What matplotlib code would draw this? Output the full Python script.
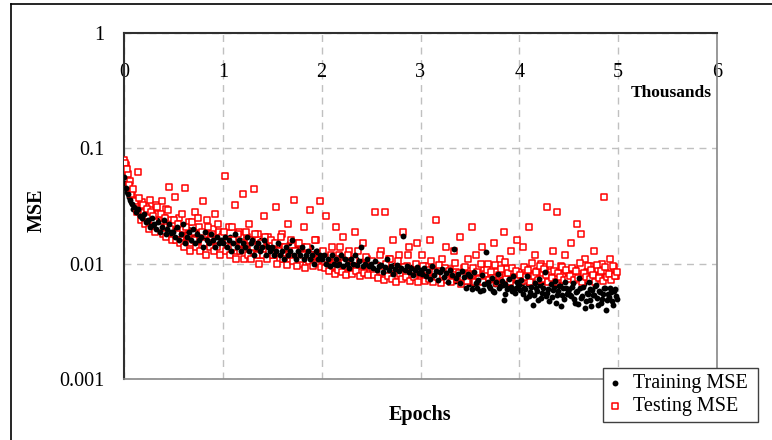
import numpy as np
import matplotlib.pyplot as plt
from matplotlib.lines import Line2D

plt.rcParams['font.family'] = ['Liberation Serif', 'DejaVu Serif']

# epochs (thousands); two interleaved sample sets, every 20 epochs each
epochs_a = np.arange(0, 5000, 20) / 1000.0
epochs_b = np.arange(10, 5000, 20) / 1000.0

train_mse_a = [
    0.056, 0.045, 0.040, 0.036, 0.033, 0.031, 0.028, 0.030, 0.026, 0.025, 0.027, 0.023, 0.024,
    0.021, 0.025, 0.022, 0.020, 0.023, 0.019, 0.021, 0.024, 0.018, 0.020, 0.022, 0.019,
    0.019, 0.017, 0.021, 0.016, 0.018, 0.022, 0.015, 0.017, 0.019, 0.016, 0.020, 0.015, 0.018,
    0.016, 0.017, 0.014, 0.019, 0.016, 0.015, 0.018, 0.016, 0.014, 0.017, 0.015, 0.016,
    0.015, 0.017, 0.014, 0.016, 0.013, 0.015, 0.018, 0.014, 0.016, 0.013, 0.015, 0.014, 0.017,
    0.013, 0.015, 0.016, 0.012, 0.014, 0.015, 0.013, 0.014, 0.016, 0.012, 0.014, 0.013,
    0.014, 0.012, 0.013, 0.015, 0.012, 0.013, 0.011, 0.014, 0.012, 0.013, 0.016, 0.012, 0.011,
    0.013, 0.012, 0.014, 0.011, 0.012, 0.013, 0.011, 0.012, 0.010, 0.013, 0.011, 0.012,
    0.011, 0.012, 0.010, 0.011, 0.0095, 0.012, 0.010, 0.011, 0.0098, 0.010, 0.012, 0.0095, 0.011,
    0.010, 0.0092, 0.011, 0.010, 0.012, 0.0098, 0.0105, 0.014, 0.0095, 0.010, 0.011, 0.0096,
    0.010, 0.0092, 0.0105, 0.0088, 0.0095, 0.0098, 0.0085, 0.0093, 0.011, 0.0088, 0.0095, 0.0082, 0.0090,
    0.0098, 0.0086, 0.0092, 0.0175, 0.0088, 0.0095, 0.0084, 0.0091, 0.0080, 0.0089, 0.0094, 0.0083,
    0.0088, 0.0082, 0.0092, 0.0078, 0.0086, 0.0074, 0.0095, 0.0080, 0.0087, 0.0072, 0.0084, 0.0090, 0.0076,
    0.0083, 0.0070, 0.0088, 0.0079, 0.0135, 0.0075, 0.0082, 0.0068, 0.0086, 0.0077, 0.0062, 0.0081,
    0.0078, 0.0060, 0.0085, 0.0068, 0.0072, 0.0058, 0.0080, 0.0066, 0.0126, 0.0070, 0.0062, 0.0075, 0.0057,
    0.0069, 0.0082, 0.0064, 0.0071, 0.0048, 0.0067, 0.0060, 0.0074, 0.0063, 0.0078, 0.0056, 0.0069,
    0.0065, 0.0072, 0.0055, 0.0060, 0.0078, 0.0052, 0.0063, 0.0044, 0.0068, 0.0058, 0.0073, 0.0050, 0.0062,
    0.0085, 0.0056, 0.0047, 0.0066, 0.0059, 0.0071, 0.0053, 0.0064, 0.0043, 0.0061, 0.0069, 0.0055,
    0.0060, 0.0052, 0.0068, 0.0046, 0.0058, 0.0075, 0.0050, 0.0063, 0.0041, 0.0056, 0.0070, 0.0048, 0.0059,
    0.0053, 0.0065, 0.0044, 0.0057, 0.0049, 0.0062, 0.0040, 0.0055, 0.0061, 0.0047, 0.0058, 0.0052,
]

train_mse_b = [
    0.050, 0.042, 0.038, 0.034, 0.030, 0.029, 0.031, 0.027, 0.028, 0.024, 0.026, 0.025, 0.022,
    0.024, 0.021, 0.023, 0.024, 0.020, 0.022, 0.019, 0.021, 0.020, 0.023, 0.018, 0.021,
    0.020, 0.018, 0.017, 0.021, 0.019, 0.016, 0.018, 0.020, 0.016, 0.017, 0.018, 0.019, 0.015,
    0.017, 0.018, 0.016, 0.015, 0.017, 0.019, 0.015, 0.016, 0.017, 0.015, 0.016, 0.018,
    0.016, 0.014, 0.015, 0.017, 0.014, 0.016, 0.015, 0.013, 0.016, 0.014, 0.015, 0.017, 0.013,
    0.014, 0.016, 0.014, 0.013, 0.015, 0.014, 0.016, 0.013, 0.014, 0.015, 0.013, 0.014,
    0.013, 0.014, 0.012, 0.013, 0.014, 0.012, 0.013, 0.012, 0.015, 0.013, 0.012, 0.013, 0.014,
    0.011, 0.013, 0.012, 0.013, 0.011, 0.012, 0.014, 0.011, 0.012, 0.013, 0.011, 0.012,
    0.012, 0.011, 0.010, 0.012, 0.011, 0.010, 0.011, 0.0098, 0.011, 0.012, 0.010, 0.011, 0.0095,
    0.010, 0.011, 0.0098, 0.010, 0.011, 0.0093, 0.010, 0.0105, 0.0096, 0.011, 0.0098, 0.010,
    0.0098, 0.0090, 0.0096, 0.0100, 0.0087, 0.0093, 0.0091, 0.0098, 0.0086, 0.0094, 0.0089, 0.0097, 0.0085,
    0.0092, 0.0088, 0.0095, 0.0084, 0.0090, 0.0087, 0.0093, 0.0082, 0.0089, 0.0086, 0.0091, 0.0085,
    0.0086, 0.0090, 0.0080, 0.0084, 0.0079, 0.0088, 0.0076, 0.0083, 0.0081, 0.0074, 0.0086, 0.0078, 0.0082,
    0.0073, 0.0080, 0.0077, 0.0084, 0.0071, 0.0079, 0.0075, 0.0081, 0.0069, 0.0077, 0.0073, 0.0066,
    0.0074, 0.0066, 0.0079, 0.0062, 0.0070, 0.0076, 0.0059, 0.0068, 0.0073, 0.0064, 0.0078, 0.0058, 0.0067,
    0.0071, 0.0061, 0.0075, 0.0065, 0.0055, 0.0070, 0.0063, 0.0068, 0.0058, 0.0072, 0.0061, 0.0066,
    0.0059, 0.0068, 0.0062, 0.0050, 0.0066, 0.0057, 0.0070, 0.0054, 0.0061, 0.0048, 0.0065, 0.0056, 0.0069,
    0.0052, 0.0060, 0.0075, 0.0051, 0.0063, 0.0046, 0.0058, 0.0067, 0.0054, 0.0049, 0.0062, 0.0057,
    0.0054, 0.0063, 0.0049, 0.0057, 0.0045, 0.0061, 0.0052, 0.0066, 0.0047, 0.0055, 0.0060, 0.0043, 0.0053,
    0.0064, 0.0050, 0.0058, 0.0046, 0.0055, 0.0062, 0.0048, 0.0051, 0.0057, 0.0044, 0.0060, 0.0049,
]

test_mse_a = [
    0.080, 0.072, 0.060, 0.052, 0.042, 0.036, 0.033, 0.062, 0.030, 0.034, 0.028, 0.031, 0.026,
    0.036, 0.029, 0.024, 0.032, 0.027, 0.022, 0.035, 0.025, 0.030, 0.021, 0.046, 0.024,
    0.022, 0.038, 0.018, 0.025, 0.016, 0.020, 0.045, 0.017, 0.023, 0.015, 0.019, 0.028, 0.016,
    0.021, 0.014, 0.035, 0.018, 0.024, 0.015, 0.017, 0.020, 0.027, 0.014, 0.019, 0.016,
    0.018, 0.057, 0.015, 0.021, 0.014, 0.016, 0.032, 0.013, 0.019, 0.015, 0.040, 0.014, 0.017,
    0.022, 0.013, 0.016, 0.044, 0.014, 0.018, 0.012, 0.015, 0.026, 0.013, 0.017, 0.012,
    0.015, 0.012, 0.031, 0.013, 0.011, 0.018, 0.014, 0.012, 0.022, 0.011, 0.013, 0.036, 0.012,
    0.015, 0.010, 0.014, 0.021, 0.011, 0.013, 0.029, 0.012, 0.010, 0.016, 0.011, 0.035,
    0.012, 0.010, 0.026, 0.011, 0.0092, 0.014, 0.010, 0.021, 0.0095, 0.012, 0.0088, 0.017, 0.010,
    0.0093, 0.013, 0.0085, 0.011, 0.019, 0.0090, 0.010, 0.0084, 0.015, 0.0095, 0.011, 0.0087,
    0.010, 0.0088, 0.028, 0.0095, 0.0082, 0.013, 0.0090, 0.028, 0.0085, 0.011, 0.0080, 0.016, 0.0092,
    0.0078, 0.012, 0.0086, 0.019, 0.0083, 0.0095, 0.014, 0.0080, 0.0088, 0.0076, 0.015, 0.0084,
    0.0090, 0.012, 0.0080, 0.0095, 0.0076, 0.016, 0.0085, 0.0078, 0.024, 0.0088, 0.0074, 0.011, 0.0082,
    0.014, 0.0079, 0.0090, 0.0075, 0.013, 0.0084, 0.0077, 0.017, 0.0081, 0.0092, 0.0073, 0.011,
    0.0086, 0.021, 0.0079, 0.012, 0.0083, 0.0075, 0.014, 0.0088, 0.0078, 0.010, 0.0081, 0.0074, 0.015,
    0.0085, 0.0077, 0.011, 0.0080, 0.019, 0.0076, 0.0090, 0.0079, 0.013, 0.0082, 0.0075, 0.016,
    0.0084, 0.0078, 0.014, 0.0090, 0.0076, 0.021, 0.0082, 0.0079, 0.012, 0.0086, 0.0074, 0.010, 0.0081,
    0.0093, 0.031, 0.0078, 0.0085, 0.013, 0.0077, 0.028, 0.0083, 0.0095, 0.0079, 0.012, 0.0087,
    0.0080, 0.015, 0.0076, 0.0089, 0.022, 0.0082, 0.018, 0.0078, 0.011, 0.0085, 0.0075, 0.0096, 0.0081,
    0.013, 0.0077, 0.0088, 0.0079, 0.0099, 0.038, 0.0083, 0.0076, 0.011, 0.0080, 0.0094, 0.0078,
]

test_mse_b = [
    0.075, 0.066, 0.048, 0.040, 0.044, 0.035, 0.028, 0.037, 0.024, 0.032, 0.022, 0.030, 0.020,
    0.028, 0.026, 0.019, 0.031, 0.021, 0.027, 0.018, 0.025, 0.017, 0.029, 0.020, 0.016,
    0.024, 0.016, 0.022, 0.015, 0.027, 0.014, 0.021, 0.017, 0.013, 0.023, 0.016, 0.014, 0.025,
    0.013, 0.019, 0.015, 0.012, 0.021, 0.014, 0.018, 0.013, 0.016, 0.022, 0.012, 0.017,
    0.019, 0.013, 0.016, 0.012, 0.021, 0.014, 0.011, 0.018, 0.013, 0.015, 0.011, 0.019, 0.012,
    0.016, 0.011, 0.014, 0.018, 0.012, 0.010, 0.015, 0.012, 0.017, 0.011, 0.013, 0.016,
    0.012, 0.015, 0.010, 0.013, 0.017, 0.011, 0.014, 0.0098, 0.012, 0.016, 0.0105, 0.013, 0.0095,
    0.015, 0.011, 0.012, 0.0092, 0.014, 0.0105, 0.012, 0.0096, 0.016, 0.0102, 0.011, 0.0094,
    0.013, 0.0092, 0.011, 0.0086, 0.012, 0.0095, 0.0082, 0.011, 0.0089, 0.014, 0.0084, 0.0102, 0.0079,
    0.012, 0.0091, 0.0081, 0.0108, 0.0086, 0.013, 0.0078, 0.0097, 0.0083, 0.0115, 0.0080, 0.0093,
    0.0105, 0.0080, 0.0096, 0.0075, 0.012, 0.0085, 0.0072, 0.0099, 0.0078, 0.011, 0.0074, 0.0092, 0.0070,
    0.0105, 0.0081, 0.0073, 0.0094, 0.0077, 0.012, 0.0071, 0.0088, 0.0076, 0.0100, 0.0069, 0.0085,
    0.0082, 0.0095, 0.0071, 0.0088, 0.0074, 0.0105, 0.0069, 0.0084, 0.0077, 0.0098, 0.0068, 0.0080, 0.0092,
    0.0072, 0.0086, 0.0070, 0.0079, 0.0102, 0.0073, 0.0083, 0.0067, 0.0076, 0.0094, 0.0071, 0.0081,
    0.0078, 0.0092, 0.0070, 0.0084, 0.0073, 0.0100, 0.0069, 0.0081, 0.0088, 0.0072, 0.0085, 0.0075, 0.0097,
    0.0068, 0.0079, 0.0090, 0.0071, 0.0104, 0.0074, 0.0083, 0.0069, 0.0092, 0.0076, 0.0087, 0.0072,
    0.0080, 0.0071, 0.0094, 0.0076, 0.0088, 0.0069, 0.0102, 0.0078, 0.0085, 0.0072, 0.0096, 0.0074, 0.0090,
    0.0079, 0.0070, 0.0099, 0.0075, 0.0087, 0.0069, 0.0083, 0.0077, 0.0093, 0.0072, 0.0089, 0.0074,
    0.0078, 0.0092, 0.0072, 0.0086, 0.0075, 0.0101, 0.0070, 0.0083, 0.0077, 0.0095, 0.0073, 0.0088, 0.0080,
    0.0070, 0.0098, 0.0075, 0.0086, 0.0071, 0.0093, 0.0076, 0.0082, 0.0072, 0.0096, 0.0078, 0.0084,
]

x_ticks = [0, 1, 2, 3, 4, 5, 6]
y_ticks = [0.001, 0.01, 0.1, 1]
y_labels = ["0.001", "0.01", "0.1", "1"]

epochs = np.concatenate([epochs_a, epochs_b])
test_mse = np.concatenate([test_mse_a, test_mse_b])

fig = plt.figure(figsize=(7.72, 4.40), dpi=100)

# outer chart frame (cropped on the right / bottom)
fig.add_artist(Line2D([10.5 / 772, 10.5 / 772], [0, 1 - 4.5 / 440], color="black", lw=1.2))
fig.add_artist(Line2D([10.5 / 772, 1], [1 - 4.5 / 440, 1 - 4.5 / 440], color="black", lw=1.2))

ax = fig.add_axes([124 / 772, 61 / 440, 593 / 772, 346 / 440])
ax.set_yscale("log")
ax.set_xlim(0, 6)
ax.set_ylim(0.001, 1)

ax.grid(True, which="major", color="#c0c0c0", linestyle=(0, (5, 4)), linewidth=1)
ax.set_axisbelow(True)

# half of the training points under the testing markers, half above them
train_style = dict(s=18, color="black", marker="o", linewidths=0)
ax.scatter(epochs_b, train_mse_b, zorder=3, **train_style)
h_test = ax.scatter(epochs, test_mse, s=18, facecolor="white", edgecolor="red", marker="s",
                    linewidths=1.1, label="Testing MSE", zorder=4)
h_train = ax.scatter(epochs_a, train_mse_a, label="Training MSE", zorder=5, **train_style)

ax.set_xticks(x_ticks)
ax.set_xticklabels([str(t) for t in x_ticks])
ax.set_yticks(y_ticks)
ax.set_yticklabels(y_labels)
ax.yaxis.set_minor_locator(plt.NullLocator())
ax.tick_params(axis="x", top=True, bottom=False, labeltop=True, labelbottom=False,
               length=0, pad=-35, labelsize=14.5)
ax.tick_params(axis="y", length=0, pad=14, labelsize=14.5)

for side in ["left", "top"]:
    ax.spines[side].set_color("#303030")
    ax.spines[side].set_linewidth(1.5)
for side in ["right", "bottom"]:
    ax.spines[side].set_color("#888888")
    ax.spines[side].set_linewidth(1.2)

fig.text(712 / 772, 1 - 93 / 440, "Thousands", fontsize=12.5, fontweight="bold",
         ha="right", va="center")
fig.text(37 / 772, 1 - 210 / 440, "MSE", rotation=90, fontsize=14.5, fontweight="bold",
         ha="center", va="center")
fig.text(420 / 772, 1 - 415 / 440, "Epochs", fontsize=14.5, fontweight="bold",
         ha="center", va="center")

leg = ax.legend(handles=[h_train, h_test], loc="lower left",
                bbox_to_anchor=(603 / 772, 18 / 440, 155 / 772, 60 / 440),
                bbox_transform=fig.transFigure, mode="expand", fontsize=14.5, frameon=True,
                fancybox=False, edgecolor="#404040", framealpha=1, handlelength=0.6,
                handletextpad=0.6, borderpad=0.3, labelspacing=0.2, borderaxespad=0)
leg.get_frame().set_linewidth(1.0)
leg.set_zorder(10)

plt.savefig("out.png", dpi=100)
